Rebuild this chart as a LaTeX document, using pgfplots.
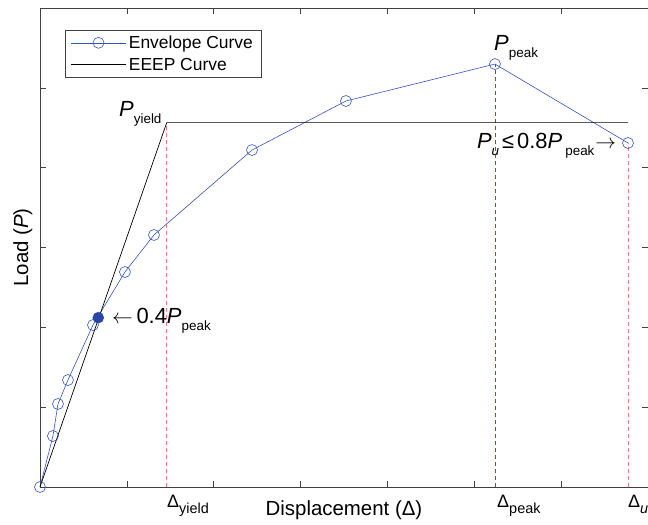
\documentclass[border=0pt]{standalone}
\usepackage{fontspec}
\setmainfont{Liberation Sans}
\usepackage{pgfplots}
\pgfplotsset{compat=1.18}

\definecolor{envblue}{RGB}{52,82,186}
\definecolor{fillblue}{RGB}{40,70,170}
\definecolor{peakred}{RGB}{230,30,40}
\definecolor{lightred}{RGB}{245,120,125}

\newcommand\psub[1]{\raisebox{-7bp}{\fontsize{13.5}{14}\selectfont #1}}
\newcommand\dsub[1]{\raisebox{-6bp}{\fontsize{14.5}{15}\selectfont #1}}
\newcommand\bigf{\fontsize{22}{24}\selectfont}
\newcommand\midf{\fontsize{18}{20}\selectfont}
\newcommand\labf{\fontsize{20.5}{22}\selectfont}

\begin{document}
\begin{tikzpicture}
\begin{axis}[name=ax, at={(0,0)}, anchor=south west,
  scale only axis, width=608bp, height=479bp,
  xmin=0, xmax=7, ymin=0, ymax=6,
  xtick={0,1,2,3,4,5,6,7}, ytick={0,1,2,3,4,5,6},
  xticklabels={,,,,,,,}, yticklabels={,,,,,,},
  tick align=inside, major tick length=6bp,
  axis line style={black!75, line width=0.5pt},
  every tick/.style={black!75, line width=0.5pt},
  clip=false,
  legend cell align=left,
  legend style={at={(0.0411,0.954)}, anchor=north west, draw=black!75,
    font=\fontsize{17.5}{20}\selectfont, inner xsep=5.5bp, inner ysep=3bp,
    row sep=3bp, nodes={inner sep=2.5bp}},
  legend image code/.code={\draw[mark repeat=2,mark phase=2,#1] plot coordinates {(0bp,0bp) (27.5bp,0bp) (55bp,0bp)};},
]
\addplot[color=lightred, dash pattern=on 4bp off 3bp, line width=0.8pt, forget plot] coordinates {(1.459,0) (1.459,4.564)};
\addplot[color=peakred, dash pattern=on 4bp off 3bp, line width=0.8pt, forget plot] coordinates {(5.238,0) (5.238,5.298)};
\addplot[color=lightred, dash pattern=on 4bp off 3bp, line width=0.8pt, forget plot] coordinates {(6.770,0) (6.770,4.309)};

\addplot[color=envblue, line width=0.6pt, mark=o, mark size=5.5bp, mark options={solid}] coordinates {
(0,0) (0.149,0.639) (0.207,1.040) (0.322,1.340) (0.610,2.029) (0.978,2.693)
(1.312,3.157) (2.441,4.221) (3.522,4.835) (5.238,5.298) (6.770,4.309)};
\addlegendentry{Envelope Curve}
\addplot[color=black, line width=0.7pt] coordinates {(0,0) (1.459,4.564) (6.770,4.564)};
\addlegendentry{EEEP Curve}
\addplot[only marks, mark=*, mark size=5.5bp, color=fillblue, forget plot] coordinates {(0.671,2.121)};

\node[anchor=base west, inner sep=0, font=\bigf] at (axis cs:0.9095,4.635) {\textit{P}\psub{yield}};
\node[anchor=base west, inner sep=0, font=\bigf] at (axis cs:5.227,5.462) {\textit{P}\psub{peak}};
\node[anchor=base west, inner sep=0, font=\bigf] at (axis cs:5.03,4.246) {\textit{P}\psub{\textit{u}}\hspace{3bp}≤\hspace{3bp}0.8\textit{P}\psub{\hspace{3bp}peak}\hspace{1bp}$\rightarrow$};
\node[anchor=base west, inner sep=0, font=\bigf] at (axis cs:0.829,2.042) {$\leftarrow$\,0.4\textit{P}\psub{peak}};

\node[anchor=base west, inner sep=0, font=\midf] at (axis cs:1.462,-0.251) {Δ\dsub{yield}};
\node[anchor=base west, inner sep=0, font=\midf] at (axis cs:5.262,-0.251) {Δ\dsub{peak}};
\node[anchor=base west, inner sep=0, font=\midf] at (axis cs:6.770,-0.251) {Δ\dsub{\textit{u}}};

\node[anchor=base, inner sep=0, font=\labf] at (axis cs:3.5,-0.351) {Displacement (Δ)};
\node[anchor=base, inner sep=0, font=\labf, rotate=90] at (axis cs:-0.138,3) {Load (\textit{P})};
\end{axis}
\pgfresetboundingbox
\useasboundingbox (-40bp,-38bp) rectangle (608bp,487bp);
\end{tikzpicture}
\end{document}
